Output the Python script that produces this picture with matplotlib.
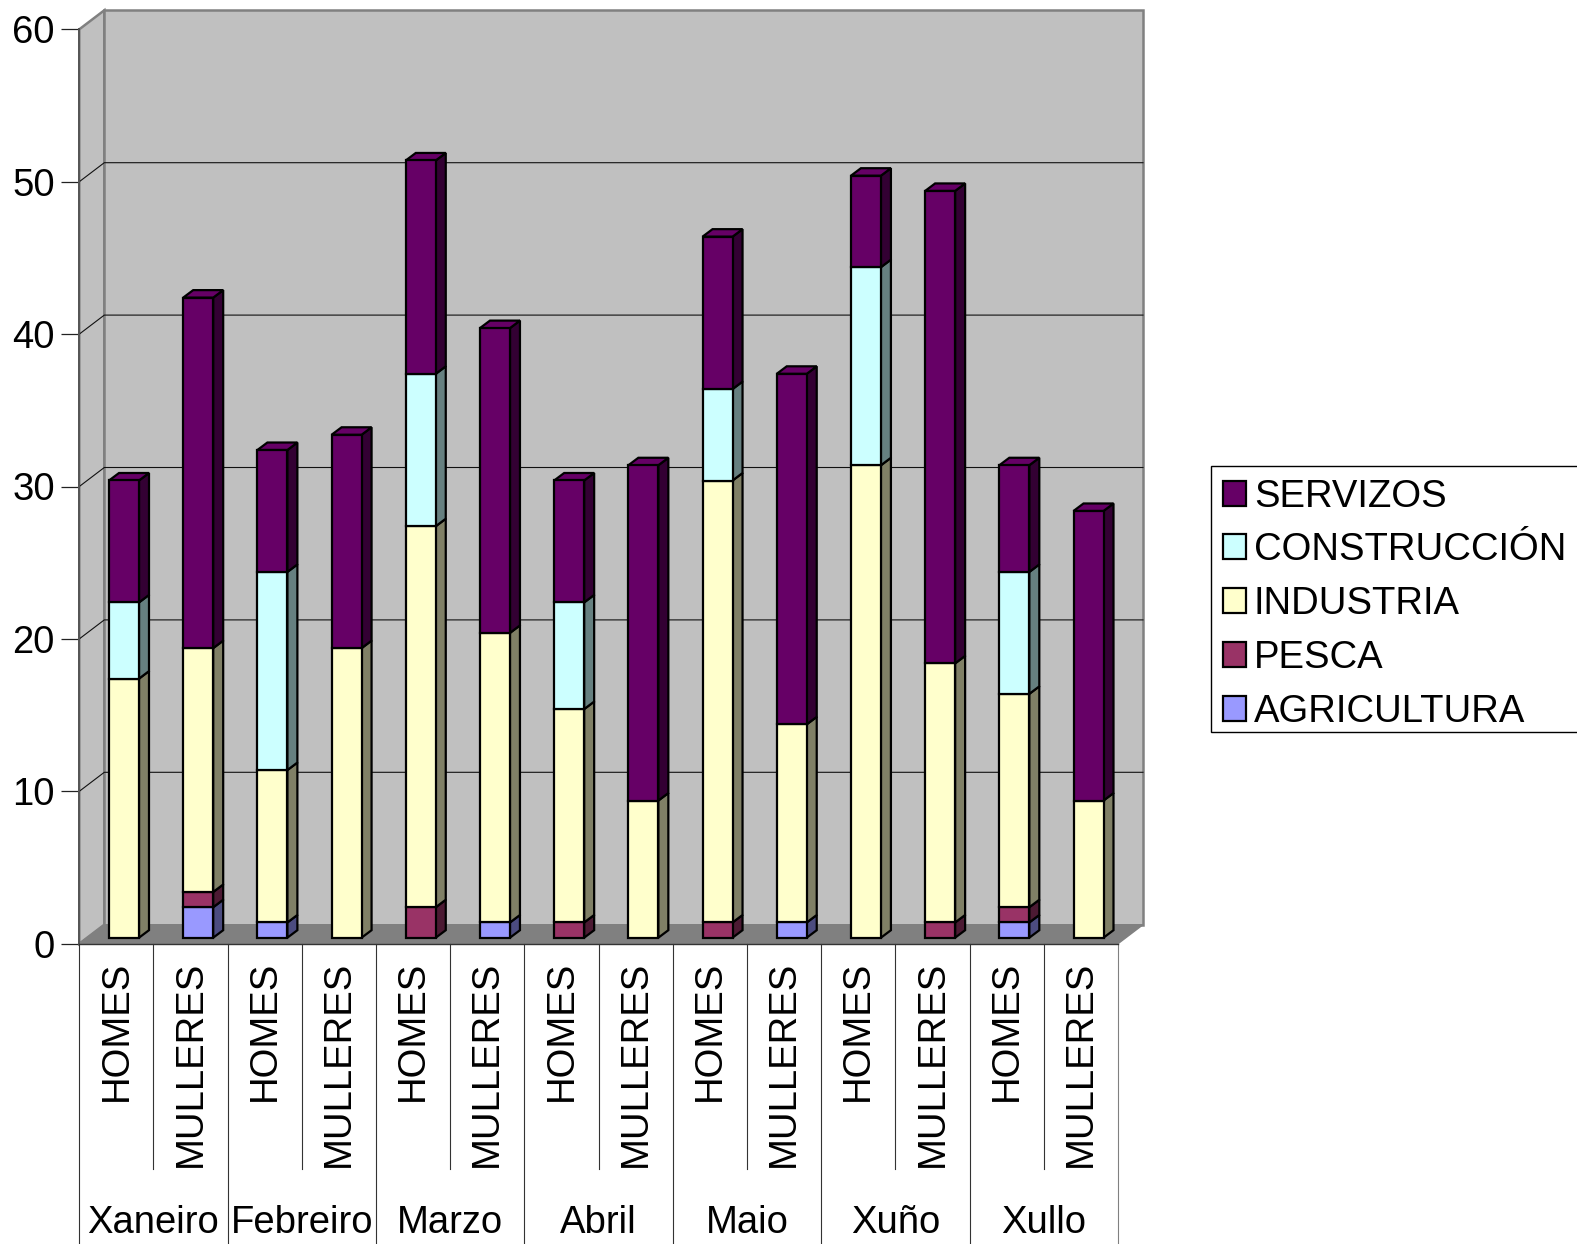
import matplotlib
matplotlib.use("Agg")
import matplotlib.pyplot as plt
from matplotlib.patches import Polygon, Rectangle
import numpy as np

plt.rcParams['font.family'] = ['Liberation Sans', 'DejaVu Sans']

months = ["Xaneiro", "Febreiro", "Marzo", "Abril", "Maio", "Xuño", "Xullo"]
sexes = ["HOMES", "MULLERES"]
y_ticks = [0, 10, 20, 30, 40, 50, 60]

series_names = ["AGRICULTURA", "PESCA", "INDUSTRIA", "CONSTRUCCIÓN", "SERVIZOS"]
agricultura = [0, 2, 1, 0, 0, 1, 0, 0, 0, 1, 0, 0, 1, 0]
pesca = [0, 1, 0, 0, 2, 0, 1, 0, 1, 0, 0, 1, 1, 0]
industria = [17, 16, 10, 19, 25, 19, 14, 9, 29, 13, 31, 17, 14, 9]
construccion = [5, 0, 13, 0, 10, 0, 7, 0, 6, 0, 13, 0, 8, 0]
servizos = [8, 23, 8, 14, 14, 20, 8, 22, 10, 23, 6, 31, 7, 19]

colors = ["#9999ff", "#993366", "#ffffcc", "#ccffff", "#660066"]
sides = ["#4c4c80", "#4c1a33", "#808066", "#668080", "#330033"]

W, H = 1577, 1244
FS = 27.5
LW = 1.6

# front plane of the box, in pixels
left, right, top, bottom = 79.3, 1118, 29.3, 943.7

fig = plt.figure(figsize=(W / 100, H / 100), dpi=100)
ax = fig.add_axes([left / W, 1 - bottom / H, (right - left) / W, (bottom - top) / H])
ax.set_xlim(0, 14)
ax.set_ylim(0, 60)
ax.patch.set_visible(False)

# pixel sizes of the fake depth, turned into data units
ux = (right - left) / 14
uy = (bottom - top) / 60
wall_dx, wall_dy = 25 / ux, 19 / uy
bar_dx, bar_dy = 10 / ux, 7.5 / uy
bar_off_x, bar_off_y = 7.6 / ux, 6 / uy
bar_w = 30 / ux

wall = "#c0c0c0"
edge = "#808080"

# walls and floor
ax.add_patch(Polygon([(0, 0), (wall_dx, wall_dy), (wall_dx, 60 + wall_dy), (0, 60)],
                     fc=wall, ec=edge, lw=1.8, clip_on=False, zorder=1))
ax.add_patch(Rectangle((wall_dx, wall_dy), 14, 60, fc=wall, ec=edge, lw=1.8, clip_on=False, zorder=1))
ax.add_patch(Polygon([(0, 0), (14, 0), (14 + wall_dx, wall_dy), (wall_dx, wall_dy)],
                     fc=edge, ec=edge, lw=1, clip_on=False, zorder=1.5))

# gridlines
for v in y_ticks[1:-1]:
    ax.plot([0, wall_dx, 14 + wall_dx], [v, v + wall_dy, v + wall_dy], color="#111111", lw=0.8,
            clip_on=False, zorder=1.2)

# bars
x = np.arange(14) + 0.5 + bar_off_x
stack = np.zeros(14)
all_series = [agricultura, pesca, industria, construccion, servizos]
for vals, col, side in zip(all_series, colors, sides):
    vals = np.array(vals, dtype=float)
    for xi, b, v in zip(x, stack, vals):
        if v == 0:
            continue
        x1 = xi + bar_w / 2
        y0 = b + bar_off_y
        ax.add_patch(Polygon([(x1, y0), (x1 + bar_dx, y0 + bar_dy), (x1 + bar_dx, y0 + v + bar_dy), (x1, y0 + v)],
                             fc=side, ec="black", lw=LW, clip_on=False, zorder=3))
    mask = vals > 0
    ax.bar(x[mask], vals[mask], bottom=stack[mask] + bar_off_y, width=bar_w, color=col,
           edgecolor="black", linewidth=LW, clip_on=False, zorder=4)
    stack = stack + vals

# top faces of the stacks
for xi, t in zip(x, stack):
    x0, x1 = xi - bar_w / 2, xi + bar_w / 2
    y1 = t + bar_off_y
    ax.add_patch(Polygon([(x0, y1), (x1, y1), (x1 + bar_dx, y1 + bar_dy), (x0 + bar_dx, y1 + bar_dy)],
                         fc=colors[-1], ec="black", lw=LW, clip_on=False, zorder=3.5))

# axes
for name in ["top", "right"]:
    ax.spines[name].set_visible(False)
ax.spines["left"].set_color("#555555")
ax.spines["left"].set_linewidth(1.4)
ax.spines["left"].set_zorder(2)
ax.spines["bottom"].set_color("#333333")
ax.spines["bottom"].set_linewidth(1.0)
ax.spines["bottom"].set_zorder(2)

ax.set_yticks(y_ticks)
ax.tick_params(axis="y", length=13, width=0.9, pad=4.5, labelsize=FS, color="#222222")
ax.set_xticks(np.arange(14) + 0.5, [sexes[i % 2] for i in range(14)], rotation=90)
ax.tick_params(axis="x", length=0, pad=12.5, labelsize=FS)

# bottom table lines and group names
trans = ax.get_xaxis_transform()
inner_end = -(1169 - bottom) / (bottom - top)
outer_end = -(H - bottom) / (bottom - top)
for i in range(15):
    end = outer_end if i % 2 == 0 else inner_end
    col = edge if i == 14 else "#333333"
    ax.plot([i, i], [0, end], transform=trans, color=col, lw=0.8, clip_on=False, zorder=2)
label_y = -(1233 - bottom) / (bottom - top)
for i, m in enumerate(months):
    ax.text(2 * i + 1, label_y, m, transform=trans, ha="center", va="baseline", fontsize=FS)

# legend box drawn apart, its bottom sits tighter than the legend's own frame
fig.add_artist(Rectangle((1210.7 / W, 1 - 731.7 / H), (W + 10 - 1210.7) / W, (731.7 - 466) / H,
                         transform=fig.transFigure, fc="white", ec="black", lw=1.0, zorder=1))
handles = [Rectangle((0, 0), 1, 1, fc=c, ec="black", lw=LW) for c in colors[::-1]]
leg = fig.legend(handles, series_names[::-1], loc="upper left",
                 bbox_to_anchor=(1210 / W, 1 - 466 / H), bbox_transform=fig.transFigure,
                 fontsize=FS, frameon=False,
                 handlelength=0.62, handleheight=0.63, handletextpad=0.2, labelspacing=0.465,
                 borderpad=0.33, borderaxespad=0)
leg.set_zorder(2)

fig.savefig("out.png", dpi=100)
